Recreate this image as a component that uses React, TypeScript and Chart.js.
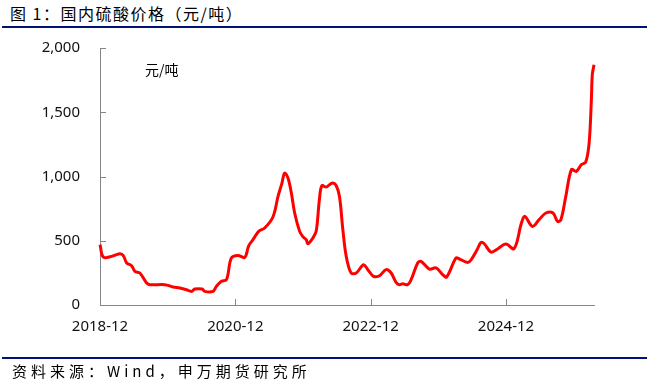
import React, { useEffect, useRef } from "react";
import { Chart, registerables } from "chart.js";

Chart.register(...registerables);

// Observation dates (price series, 元/吨)
const dates: string[] = [
  "2018-12-01", "2018-12-18", "2019-01-24", "2019-02-26", "2019-03-17", "2019-04-05", "2019-04-23",
  "2019-05-19", "2019-06-07", "2019-07-03", "2019-08-09", "2019-08-26", "2019-11-16", "2019-12-30",
  "2020-02-06", "2020-03-11", "2020-04-08", "2020-04-25", "2020-06-04", "2020-06-18", "2020-08-02",
  "2020-08-20", "2020-09-17", "2020-10-14", "2020-11-10", "2020-12-15", "2021-01-21", "2021-02-12",
  "2021-03-05", "2021-04-05", "2021-05-07", "2021-06-21", "2021-07-18", "2021-08-09", "2021-08-23",
  "2021-09-11", "2021-09-29", "2021-10-16", "2021-11-13", "2021-11-30", "2021-12-18", "2021-12-27",
  "2022-01-23", "2022-02-11", "2022-02-28", "2022-03-11", "2022-04-04", "2022-04-22", "2022-05-10",
  "2022-05-28", "2022-06-15", "2022-07-03", "2022-07-21", "2022-08-17", "2022-09-14", "2022-10-23",
  "2022-11-16", "2022-12-16", "2023-01-18", "2023-02-23", "2023-03-20", "2023-04-16", "2023-05-04",
  "2023-05-21", "2023-06-18", "2023-07-06", "2023-08-11", "2023-08-29", "2023-10-13", "2023-11-19",
  "2023-12-24", "2024-01-15", "2024-03-05", "2024-03-23", "2024-05-07", "2024-05-25", "2024-06-27",
  "2024-07-18", "2024-08-05", "2024-09-11", "2024-10-16", "2024-11-30", "2025-01-14", "2025-02-23",
  "2025-03-11", "2025-04-21", "2025-05-27", "2025-07-03", "2025-08-11", "2025-09-05", "2025-09-23",
  "2025-10-19", "2025-11-19", "2025-12-15", "2026-01-12", "2026-02-05", "2026-02-23", "2026-03-05",
  "2026-03-10", "2026-03-19",
];

const prices: number[] = [
  470, 373, 375, 390, 399, 385, 327,
  306, 261, 249, 171, 158, 158, 140,
  132, 119, 106, 124, 124, 106, 106,
  145, 184, 197, 366, 386, 370, 461,
  508, 573, 599, 685, 845, 949, 1027,
  988, 871, 720, 573, 532, 508, 477,
  521, 573, 819, 928, 918, 936, 949,
  928, 845, 586, 378, 249, 249, 313,
  275, 223, 228, 275, 249, 176, 158,
  166, 158, 197, 327, 339, 280, 288,
  236, 218, 366, 358, 331, 352, 430,
  487, 477, 412, 436, 475, 438, 638,
  690, 612, 664, 716, 716, 650, 664,
  845, 1053, 1040, 1092, 1112, 1260, 1597,
  1792, 1870,
];

const xTickMonths: number[] = [0, 24, 48, 72];
const xTickLabels: string[] = ["2018-12", "2020-12", "2022-12", "2024-12"];
const yTicks: number[] = [0, 500, 1000, 1500, 2000];

const toMonth = (s: string) => {
  const [y, m, d] = s.split("-").map(Number);
  return (y - 2018) * 12 + (m - 12) + (d - 1) / 30;
};

const innerTicks = {
  id: "innerTicks",
  afterDraw(chart: any) {
    const { ctx, chartArea, scales } = chart;
    ctx.save();
    ctx.strokeStyle = "#868686";
    ctx.lineWidth = 1;
    ctx.beginPath();
    xTickMonths.forEach((v) => {
      const x = Math.round(scales.x.getPixelForValue(v)) + 0.5;
      ctx.moveTo(x, chartArea.bottom);
      ctx.lineTo(x, chartArea.bottom - 6);
    });
    yTicks.forEach((v) => {
      const y = Math.round(scales.y.getPixelForValue(v)) + 0.5;
      ctx.moveTo(chartArea.left, y);
      ctx.lineTo(chartArea.left + 6, y);
    });
    ctx.stroke();
    ctx.fillStyle = "#000";
    ctx.font = '14px "Noto Sans CJK SC"';
    ctx.textBaseline = "middle";
    ctx.textAlign = "left";
    ctx.fillText("元/吨", chartArea.left + 45, chartArea.top + 22);
    ctx.restore();
  },
};

export default function App() {
  const ref = useRef<HTMLCanvasElement | null>(null);
  useEffect(() => {
    document.body.style.margin = "0";
    const xs = dates.map(toMonth);
    const data = xs.map((x, i) => ({ x, y: prices[i] }));
    const chart = new Chart(ref.current!, {
      type: "line",
      data: {
        datasets: [
          {
            data,
            borderColor: "#ff0000",
            borderWidth: 3,
            pointRadius: 0,
            tension: 0.35,
            fill: false,
            clip: false as any,
          },
        ],
      },
      options: {
        animation: false,
        responsive: false,
        events: [],
        layout: { padding: { left: 0, right: 55, top: 48, bottom: 0 } },
        plugins: { legend: { display: false }, tooltip: { enabled: false } },
        scales: {
          x: {
            type: "linear",
            min: 0,
            max: xs[xs.length - 1],
            afterBuildTicks: (s: any) => {
              s.ticks = xTickMonths.map((v) => ({ value: v }));
            },
            afterFit: (s: any) => {
              s.height = 78;
            },
            grid: { display: false, drawTicks: false },
            border: { display: true, color: "#868686", width: 1 },
            ticks: {
              autoSkip: false,
              maxRotation: 0,
              padding: 13,
              color: "#111",
              font: { family: '"Noto Sans"', size: 15 },
              callback: (_v: any, i: number) => xTickLabels[i],
            },
          },
          y: {
            min: 0,
            max: 2000,
            afterBuildTicks: (s: any) => {
              s.ticks = yTicks.map((v) => ({ value: v }));
            },
            afterFit: (s: any) => {
              s.width = 100;
            },
            grid: { display: false, drawTicks: false },
            border: { display: true, color: "#868686", width: 1 },
            ticks: {
              padding: 20,
              color: "#111",
              font: { family: '"Noto Sans"', size: 15 },
              callback: (v: any) => Number(v).toLocaleString("en-US"),
            },
          },
        },
      },
      plugins: [innerTicks],
    });
    return () => chart.destroy();
  }, []);

  return (
    <div style={{ position: "relative", width: 649, height: 383, overflow: "hidden", background: "#fff" }}>
      <div
        style={{
          position: "absolute",
          left: 10,
          top: 3,
          fontFamily: '"Noto Sans CJK SC"',
          fontSize: 16,
          letterSpacing: 1.5,
          color: "#000",
          lineHeight: "20px",
          whiteSpace: "nowrap",
        }}
      >
        图 1：国内硫酸价格（元/吨）
      </div>
      <div style={{ position: "absolute", left: 2, top: 26, width: 645, height: 2, background: "#00127a" }} />
      <canvas ref={ref} width={649} height={383} style={{ position: "absolute", left: 0, top: 0, width: 649, height: 383 }} />
      <div style={{ position: "absolute", left: 2, top: 357, width: 645, height: 2, background: "#00127a" }} />
      <div
        style={{
          position: "absolute",
          left: 12,
          top: 361,
          fontFamily: '"Noto Sans CJK SC"',
          fontSize: 15,
          letterSpacing: 4,
          color: "#000",
          lineHeight: "20px",
          whiteSpace: "nowrap",
        }}
      >
        资料来源：Wind，申万期货研究所
      </div>
    </div>
  );
}
